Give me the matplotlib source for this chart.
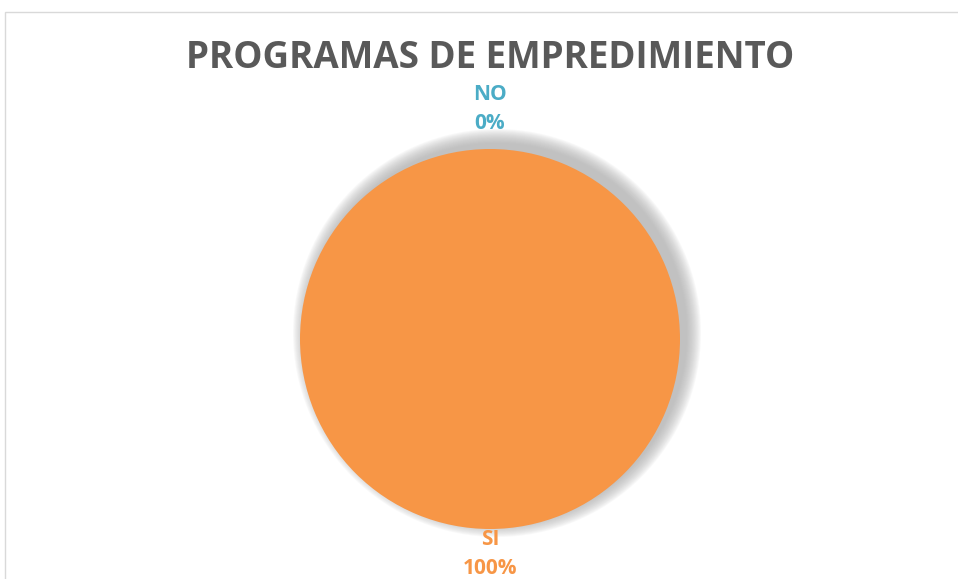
import numpy as np
import matplotlib.pyplot as plt
from matplotlib.patches import Circle, Rectangle

# chart data
categories = ['SI', 'NO']
values = [100, 0]
colors = ['#F79646', '#4BACC6']
title = 'PROGRAMAS DE EMPREDIMIENTO'

W, H = 958, 579
fig = plt.figure(figsize=(W / 100, H / 100), dpi=100)
ax = fig.add_axes([0, 0, 1, 1])

cx, cy, r = 490, H - 339, 190

# soft shadow behind the pie
for s in np.linspace(14, 0, 15):
    ax.add_patch(Circle((cx + 7, cy + 6), r + s, color='#acacac',
                        alpha=0.075, lw=0, zorder=1))

wedges, _ = ax.pie(values, colors=colors, center=(cx, cy), radius=r,
                   startangle=90, counterclock=False, labels=None,
                   wedgeprops=dict(linewidth=0, zorder=2))

# data labels outside each wedge
for w, cat, v, c in zip(wedges, categories, values, colors):
    ang = np.deg2rad((w.theta1 + w.theta2) / 2)
    up = np.sin(ang) > 0
    d = r * 1.08 if up else r * 1.0
    ax.text(cx + d * np.cos(ang), cy + d * np.sin(ang), f'{cat}\n{v}%',
            ha='center', va='bottom' if up else 'top', color=c,
            fontsize=15, fontweight='bold', linespacing=1.5,
            family=['Open Sans', 'DejaVu Sans'], zorder=3)

ax.set_xlim(0, W)
ax.set_ylim(0, H)
ax.set_aspect('auto')
ax.axis('off')

fig.text(490 / W, 1 - 58 / H, title, ha='center', va='center',
         fontsize=26.5, fontweight='bold', color='#595959',
         family=['Open Sans', 'DejaVu Sans'])

# chart area border
fig.patches.append(Rectangle((5 / W, -0.1), 1.2, 1.1 - 12 / H,
                             transform=fig.transFigure, fill=False,
                             edgecolor='#d9d9d9', lw=1))

fig.savefig('out.png', dpi=100)
